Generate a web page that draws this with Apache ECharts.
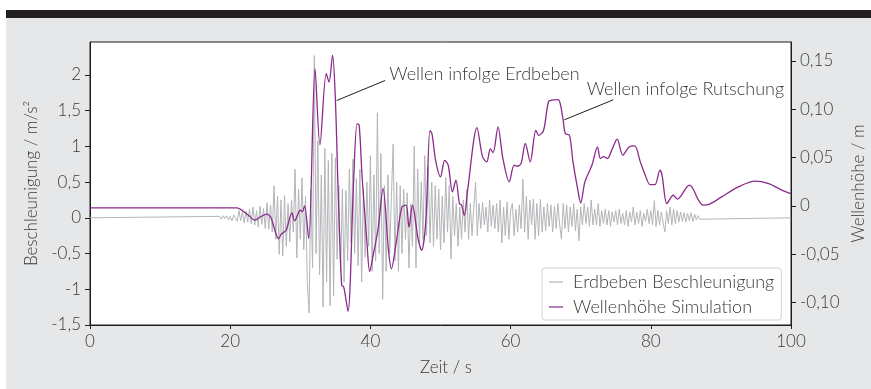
<!DOCTYPE html>
<html>
<head>
<meta charset="utf-8">
<script src="https://cdn.jsdelivr.net/npm/echarts@6/dist/echarts.min.js"></script>
<style>
  html, body { margin: 0; padding: 0; background: #fff; width: 871px; height: 389px; overflow: hidden; }
  #panel { position: absolute; left: 6px; top: 18px; right: 0; bottom: 0; background: #e6e7e8; }
  #bar { position: absolute; left: 6px; top: 10px; right: 0; height: 8px; background: #231f20; }
  #chart { position: absolute; left: 0; top: 0; width: 871px; height: 389px; }
</style>
</head>
<body>
<div id="panel"></div>
<div id="bar"></div>
<div id="chart"></div>
<script>
// Erdbeben-Beschleunigung (m/s²), gleichmäßig abgetastet ab accelStart mit accelStep
const accelStart = 18.5;
const accelStep = 0.25;
const accelValues = [
  0.02, -0.02, 0.03, -0.01, 0.03, -0.03, 0.02, -0.04, 0.04,
  0.06, -0.05, 0.1, -0.04, 0.08, -0.07, 0.09, -0.06,
  0.12, -0.08, 0.15, -0.1, 0.1, -0.13, 0.16, -0.09, 0.13, -0.15,
  0.21, -0.16, 0.18, -0.2,
  0.45, -0.3, 0.3, -0.51, 0.25,
  -0.53, 0.31, -0.4,
  0.2, -0.34, 0.25, -0.2,
  0.68, -0.56, 0.4, -0.3,
  0.56, -0.45, 0.3,
  -0.9, -1.33, 0.4, -0.7, 2.27,
  -0.5, 1.08, -0.8, 0.6,
  -1.25, 0.97, -0.9, 0.8,
  -1.23, 0.9, -1.09, 0.84,
  -0.58, 0.45, -0.77, 0.4,
  -0.9, 0.38, -0.6, 0.68,
  -0.35, 0.82, -0.5, 0.55,
  -0.67, 0.68, -0.9, 0.4,
  -0.55, 0.5, -0.4, 0.87,
  -0.75, 0.6, -0.6, 1.47,
  -0.5, 0.9, -1.14, 0.45,
  -0.75, 0.6, -0.5, 0.3,
  1.03, -0.6, 0.5, -0.75,
  0.45, -0.5, 0.4, -0.3,
  0.35, -0.7, 0.2, -0.4,
  1.0, -0.7, 0.68, -0.35,
  0.5, -0.3, 0.87, -0.25,
  0.72, -0.35, 0.5, -0.4,
  0.45, -0.3, 0.4, -0.45,
  0.3, -0.35, 0.56, -0.2,
  0.45, -0.58, 0.3, -0.25,
  0.2, -0.4, 0.15, -0.3,
  0.25, -0.2, 0.4, -0.3,
  0.2, -0.25, 0.15, 0.5,
  -0.25, 0.2, -0.15, 0.22,
  -0.1, 0.15, -0.2, 0.25,
  -0.12, 0.18, -0.15, 0.2,
  -0.2, 0.25, -0.35, 0.15,
  -0.25, 0.22, -0.3, 0.1,
  0.2, -0.25, 0.12, -0.2,
  0.18, -0.15, 0.54, -0.2,
  0.3, -0.3, 0.25, -0.1,
  0.26, -0.3, 0.2, -0.25,
  0.26, -0.2, 0.15, -0.18,
  0.2, -0.12, 0.18, -0.2,
  0.16, -0.15, 0.2, -0.1,
  -0.3, 0.2, -0.15, 0.18,
  -0.2, 0.15, -0.12, 0.2,
  -0.18, 0.12, -0.32, 0.15,
  -0.1, 0.2, -0.08, 0.15,
  -0.12, 0.25, -0.1, 0.12,
  -0.1, 0.2, -0.12, 0.1,
  -0.08, 0.12, -0.1, 0.1,
  -0.12, 0.08, -0.06, 0.1,
  -0.1, 0.12, -0.08, 0.06,
  -0.1, 0.1, -0.12, 0.08,
  -0.06, 0.15, -0.1, 0.08,
  -0.08, 0.1, -0.12, 0.06,
  -0.05, 0.12, -0.08, 0.1,
  -0.1, 0.24, -0.12, 0.1,
  -0.1, 0.08, -0.06, -0.2,
  0.1, -0.08, 0.15, -0.1,
  0.12, -0.08, 0.1, -0.06,
  0.08, -0.05, 0.07, -0.06,
  0.06, -0.04, 0.07, -0.05,
  0.05, -0.03, 0.03, -0.02,
  0
];

// Simulierte Wellenhöhe (m) über der Zeit (s)
const waveTime = [
  0, 20.9, 22.6, 23.5, 24.4, 25.2, 25.8, 26.9, 27.3, 27.6, 28.0, 28.8, 29.2, 30.0, 30.3, 30.6,
  31.2, 32.1, 32.8, 33.7, 34.1, 34.6, 35.0, 35.4, 35.9, 36.2, 36.8, 37.6, 38.1, 38.4, 38.8,
  39.5, 39.9, 40.4, 41.1, 41.8, 42.6, 43.0, 43.7, 44.5, 45.1, 45.5, 46.0, 46.8, 47.3, 47.9,
  48.5, 48.8, 49.3, 50.0, 50.6, 51.1, 51.7, 52.2, 52.7, 53.0, 53.4, 53.9, 55.2, 56.0, 56.6,
  57.1, 57.5, 58.2, 58.9, 59.8, 60.5, 61.0, 61.5, 62.1, 62.8, 63.6, 64.0, 64.7, 65.4, 65.9,
  66.8, 67.1, 67.5, 67.8, 68.4, 68.9, 69.6, 70.0, 70.6, 71.6, 72.4, 72.8, 73.3, 73.8, 74.5,
  75.2, 76.0, 76.9, 77.7, 78.5, 79.2, 79.9, 80.6, 81.3, 81.6, 82.3, 83.2, 83.8, 85.5, 86.0,
  86.8, 87.5, 88.4, 90.1, 92.5, 94.9, 96.8, 98.7, 100
];
const waveHeight = [
  -0.002, -0.002, -0.0097, -0.0148, -0.011, -0.0086, -0.012, -0.0339, -0.029, -0.0276, -0.025, -0.0072, -0.0155, -0.0045, -0.006, 0,
  -0.0339, 0.142, 0.063, 0.137, 0.128, 0.156, 0.111, 0.0145, -0.082, -0.084, -0.109, 0.025, 0.085, 0.0835, 0.032,
  -0.037, -0.068, -0.051, -0.0235, 0.018, -0.0476, -0.065, -0.037, -0.001, 0.0007, -0.022, 0.0007, -0.034, -0.046, -0.0166,
  0.078, 0.074, 0.047, 0.030, 0.047, 0.042, 0.0145, 0.0266, 0.0024, 0.001, -0.0097, 0.018, 0.081, 0.0507, 0.0455,
  0.059, 0.055, 0.0818, 0.049, 0.0249, 0.042, 0.041, 0.044, 0.0645, 0.0455, 0.078, 0.073, 0.078, 0.1077, 0.1094,
  0.110, 0.105, 0.0887, 0.0749, 0.073, 0.0455, 0.016, 0.003, 0.0248, 0.042, 0.061, 0.049, 0.051, 0.049, 0.059,
  0.069, 0.0525, 0.061, 0.062, 0.0455, 0.032, 0.022, 0.022, 0.037, 0.032, 0.0024, 0.011, 0.007, 0.0214, 0.018,
  0.006, 0.0007, 0.0018, 0.0093, 0.0197, 0.0256, 0.0231, 0.0163, 0.0127
];

// Achsenbeschriftungen
const timeTicks = [0, 20, 40, 60, 80, 100];
const accelTicks = [-1.5, -1, -0.5, 0, 0.5, 1, 1.5, 2];
const accelTickLabels = ['-1,5', '-1', '-0,5', '0', '0,5', '1', '1,5', '2'];
const heightTicks = [-0.1, -0.05, 0, 0.05, 0.1, 0.15];
const heightTickLabels = ['-0,10', '-0,05', '0', '0,05', '0,10', '0,15'];

const seriesNames = ['Erdbeben Beschleunigung', 'Wellenhöhe Simulation'];

// Beschriftete Hinweislinien, Anker in Achseneinheiten (Zeit, Wellenhöhe)
const annotationLabels = ['Wellen infolge Erdbeben', 'Wellen infolge Rutschung'];
const annotationFrom = [[35.2, 0.109], [67.66, 0.089]];
const annotationTo = [[42.1, 0.1297], [74.65, 0.1097]];
const annotationText = [[42.7, 0.1363], [70.85, 0.1208]];

const FONT = 'Lato';
const TEXT = '#3a3a3a';
const INK = '#1e1e1e';

function labelFor(ticks, labels) {
  return function (v) {
    for (let i = 0; i < ticks.length; i++) {
      if (Math.abs(ticks[i] - v) < 1e-6) return labels[i];
    }
    return '';
  };
}

const accelData = [[0, 0]];
accelValues.forEach(function (v, i) { accelData.push([accelStart + i * accelStep, v]); });
accelData.push([100, 0]);

const waveData = waveTime.map(function (t, i) { return [t, waveHeight[i]]; });

const chart = echarts.init(document.getElementById('chart'), null, { renderer: 'canvas' });

const axisTextStyle = { fontFamily: FONT, fontWeight: 300, fontSize: 17, color: TEXT };
const bigTextStyle = { fontFamily: FONT, fontWeight: 300, fontSize: 18, color: TEXT };

chart.setOption({
  animation: false,
  textStyle: { fontFamily: FONT, fontWeight: 300 },
  grid: {
    left: 90, top: 42, right: 80, bottom: 64,
    outerBoundsMode: 'none', containLabel: false,
    show: true, backgroundColor: '#ffffff', borderColor: INK, borderWidth: 1
  },
  legend: {
    orient: 'vertical',
    left: 542, top: 268,
    backgroundColor: '#ffffff',
    borderColor: '#d2d2d2', borderWidth: 1, borderRadius: 3,
    padding: [5, 7, 4, 7],
    itemGap: 7,
    itemWidth: 14, itemHeight: 1.2,
    icon: 'rect',
    textStyle: Object.assign({}, bigTextStyle, { padding: [0, 0, 0, 5] }),
    data: seriesNames
  },
  xAxis: {
    type: 'value', min: 0, max: 100, interval: 20,
    axisLine: { show: true, onZero: false, lineStyle: { color: INK, width: 1 } },
    axisTick: { show: true, length: 4, lineStyle: { color: INK } },
    axisLabel: Object.assign({ margin: 8, customValues: timeTicks }, axisTextStyle),
    splitLine: { show: false },
    name: 'Zeit / s', nameLocation: 'middle', nameGap: 34,
    nameTextStyle: Object.assign({ padding: [0, 0, 0, 11] }, axisTextStyle)
  },
  yAxis: [
    {
      type: 'value', min: -1.5, max: 2.46, position: 'left',
      axisLine: { show: true, onZero: false, lineStyle: { color: INK, width: 1 } },
      axisTick: { show: true, length: 5, inside: false, customValues: accelTicks, lineStyle: { color: INK } },
      axisLabel: Object.assign({ margin: 9, customValues: accelTicks, formatter: labelFor(accelTicks, accelTickLabels) }, axisTextStyle),
      splitLine: { show: false },
      name: 'Beschleunigung / m/s²', nameLocation: 'middle', nameRotate: 90, nameGap: 45,
      nameTextStyle: axisTextStyle
    },
    {
      type: 'value', min: -0.1232, max: 0.1695, position: 'right',
      axisLine: { show: true, onZero: false, lineStyle: { color: INK, width: 1 } },
      axisTick: { show: true, length: 5, inside: false, customValues: heightTicks, lineStyle: { color: INK } },
      axisLabel: Object.assign({ margin: 9, customValues: heightTicks, formatter: labelFor(heightTicks, heightTickLabels) }, axisTextStyle),
      splitLine: { show: false },
      name: 'Wellenhöhe / m', nameLocation: 'middle', nameRotate: 90, nameGap: 56,
      nameTextStyle: axisTextStyle
    }
  ],
  series: [
    {
      name: seriesNames[0], type: 'line', yAxisIndex: 0,
      data: accelData, showSymbol: false, symbol: 'none',
      color: '#b3b5b8', lineStyle: { width: 1, color: '#b3b5b8' }, z: 2
    },
    {
      name: seriesNames[1], type: 'line', yAxisIndex: 1,
      data: waveData, showSymbol: false, symbol: 'none', smooth: 0.3,
      color: '#8b2a8b', lineStyle: { width: 1.3, color: '#8b2a8b' }, z: 3
    }
  ]
});

// Hinweislinien und Texte in Pixel umrechnen
const graphics = [];
annotationLabels.forEach(function (label, i) {
  const a = chart.convertToPixel({ seriesIndex: 1 }, annotationFrom[i]);
  const b = chart.convertToPixel({ seriesIndex: 1 }, annotationTo[i]);
  const c = chart.convertToPixel({ seriesIndex: 1 }, annotationText[i]);
  graphics.push({
    type: 'line', z: 10,
    shape: { x1: a[0], y1: a[1], x2: b[0], y2: b[1] },
    style: { stroke: INK, lineWidth: 1 }
  });
  graphics.push({
    type: 'text', z: 10, x: c[0], y: c[1],
    style: {
      text: label, fill: TEXT, font: '300 18px ' + FONT,
      textAlign: 'left', textVerticalAlign: 'middle'
    }
  });
});
chart.setOption({ graphic: graphics });
</script>
</body>
</html>
